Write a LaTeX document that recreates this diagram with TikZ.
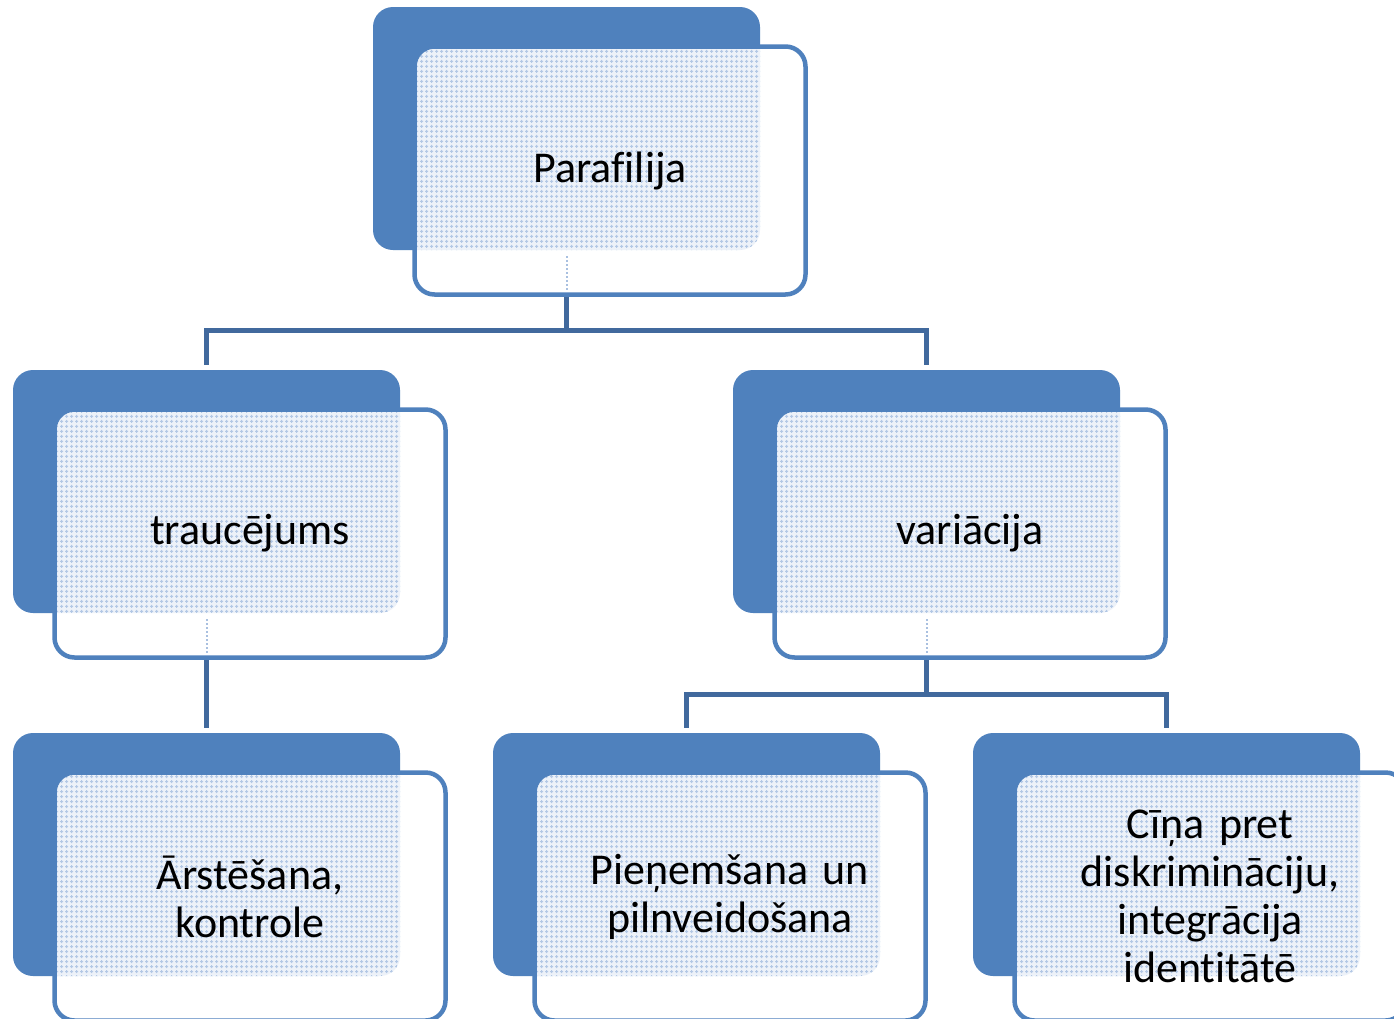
\documentclass[tikz,border=0pt]{standalone}
\usepackage{fontspec}
\setmainfont{Carlito}[Ligatures=NoCommon, WordSpace=0.85]
\usetikzlibrary{backgrounds,patterns.meta}
\definecolor{accent}{HTML}{4F81BD}
\definecolor{connc}{HTML}{41699D}
\definecolor{tint}{HTML}{EDF2F9}
\definecolor{patc}{HTML}{B3C8E5}
\definecolor{dotc}{HTML}{A9C0E0}
\tikzdeclarepattern{
  name=ptdots,
  type=uncolored,
  bottom left={(-1pt,-1pt)}, top right={(4pt,4pt)},
  tile size={(5pt,5pt)},
  code={
    \pgfpathrectangle{\pgfpoint{0pt}{1pt}}{\pgfpoint{3pt}{1pt}}
    \pgfpathrectangle{\pgfpoint{1pt}{0pt}}{\pgfpoint{1pt}{3pt}}
    \pgfusepath{fill}
  }
}
\tikzset{
  backbox/.style={fill=accent, draw=none, rounded corners=20pt, minimum width=387pt, minimum height=243pt, inner sep=0pt, outer sep=0pt},
  frontbox/.style={draw=accent, line width=4.5pt, rounded corners=20pt, minimum width=391pt, minimum height=248pt, inner sep=0pt, outer sep=0pt, align=center, text width=340pt, font=\fontsize{44}{48}\selectfont},
  connline/.style={draw=connc, line width=4.5pt},
  faint/.style={draw=dotc, line width=2pt, dotted}
}
% #1 name, #2 left, #3 top, #4 text
\newcommand\orgunit[4]{%
  \node[backbox] (#1b) at (#2+193.5,#3+121.5) {};
  \fill[white, rounded corners=20pt] (#2+41.5,#3+38.5) rectangle (#2+432.5,#3+286.5);
  \begin{scope}
    \clip[rounded corners=18pt] (#2+43.75,#3+40.75) rectangle (#2+430.25,#3+284.25);
    \fill[tint, rounded corners=20pt] (#2,#3) rectangle (#2+387,#3+243);
    \fill[pattern=ptdots, pattern color=patc, rounded corners=20pt] (#2,#3) rectangle (#2+387,#3+243);
  \end{scope}
  \node[frontbox] (#1) at (#2+237,#3+163.5) {#4};
}
\begin{document}
\begin{tikzpicture}[x=1pt,y=-1pt]
\useasboundingbox (0,0) rectangle (1394,1018);
\clip (0,0) rectangle (1394,1018);
\orgunit{P}{373}{7}{Paraf\kern0pt ilija}
\orgunit{T}{13}{370}{traucējums}
\orgunit{V}{733}{370}{variācija}
\orgunit{A}{13}{733}{Ārstēšana,\\kontrole}
\orgunit{N}{493}{733}{Pieņemšana un\\pilnveidošana}
\orgunit{C}{973}{733}{Cīņa pret\\diskrimināciju,\\integrācija\\identitātē}
\draw[faint] (566.5,256) -- (566.5,290);
\draw[faint] (206.5,619) -- (206.5,653);
\draw[faint] (926.5,619) -- (926.5,653);
\begin{pgfonlayer}{background}
  \fill[white] (0,0) rectangle (1394,1018);
  \coordinate (j1) at (566.5,330.5);
  \coordinate (j2) at (926.5,694.5);
  \draw[connline] (Pb.south) -- (j1);
  \draw[connline, shorten >=5pt] (j1) -| (Tb.north);
  \draw[connline, shorten >=5pt] (j1) -| (Vb.north);
  \draw[connline, shorten >=5pt] (Tb.south) -- (Ab.north);
  \draw[connline] (Vb.south) -- (j2);
  \draw[connline, shorten >=5pt] (j2) -| (Nb.north);
  \draw[connline, shorten >=5pt] (j2) -| (Cb.north);
\end{pgfonlayer}
\end{tikzpicture}
\end{document}
